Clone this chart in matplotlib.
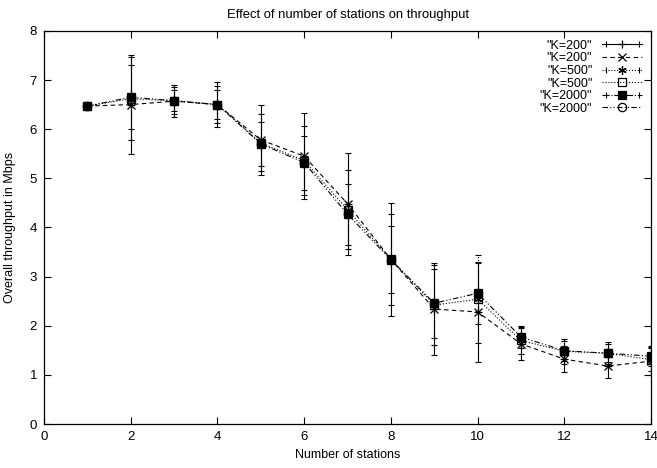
import matplotlib
matplotlib.use('Agg')
import matplotlib.pyplot as plt
from matplotlib.lines import Line2D
from matplotlib.legend_handler import HandlerLine2D, HandlerTuple

plt.rcParams['font.family'] = ['Liberation Sans', 'DejaVu Sans']

# number of stations
stations = list(range(1, 15))

# throughput means (Mbps) per buffer size
k200 = [6.47, 6.50, 6.57, 6.50, 5.78, 5.45, 4.48, 3.35, 2.34, 2.28, 1.63, 1.32, 1.18, 1.28]
k500 = [6.47, 6.62, 6.58, 6.50, 5.72, 5.36, 4.36, 3.35, 2.42, 2.54, 1.70, 1.48, 1.44, 1.31]
k2000 = [6.47, 6.65, 6.58, 6.50, 5.70, 5.32, 4.27, 3.34, 2.46, 2.66, 1.77, 1.49, 1.44, 1.38]

# error bar half widths
k200_err = [0.02, 1.00, 0.33, 0.46, 0.72, 0.88, 1.04, 1.15, 0.93, 1.01, 0.32, 0.27, 0.24, 0.28]
k500_err = [0.02, 0.85, 0.28, 0.38, 0.58, 0.70, 0.80, 0.93, 0.82, 0.90, 0.28, 0.25, 0.22, 0.24]
k2000_err = [0.02, 0.65, 0.22, 0.30, 0.45, 0.55, 0.62, 0.68, 0.70, 0.62, 0.22, 0.20, 0.18, 0.20]

labels = ['"K=200"', '"K=200"', '"K=500"', '"K=500"', '"K=2000"', '"K=2000"']

fig = plt.figure(figsize=(6.57, 4.68), dpi=100)
ax = fig.add_axes([0.067, 0.094, 0.924, 0.840])

err_styles = [
    (k200, k200_err, '-', '+', 'k'),
    (k500, k500_err, ':', (6, 2, 0), 'k'),
    (k2000, k2000_err, '-.', 's', 'k'),
]
line_styles = [
    (k200, (0, (4, 3)), 'x'),
    (k500, ':', 's'),
    (k2000, (0, (5, 2, 1, 2, 1, 2)), 'o'),
]

handles = []
hmap = {}
for i in range(3):
    ys, es, ls, mk, mfc = err_styles[i]
    eb = ax.errorbar(stations, ys, yerr=es, fmt='none', ecolor='k', elinewidth=0.8,
                     capsize=2.5, capthick=0.8)
    eb[2][0].set_linestyle(ls)
    ax.plot(stations, ys, ls='none', marker=mk, ms=6, mfc=mfc, mec='k', mew=0.9, zorder=3)
    bar = Line2D([], [], ls=ls, color='k', lw=0.8)
    caps = Line2D([], [], ls='none', marker='|', ms=5, color='k', mew=0.8)
    mid = Line2D([], [], ls='none', marker=mk, ms=6, mfc=mfc, mec='k', mew=0.9)
    hmap[caps] = HandlerLine2D(numpoints=2)
    handles.append((bar, caps, mid))

    ys2, ls2, mk2 = line_styles[i]
    ln, = ax.plot(stations, ys2, ls=ls2, color='k', lw=0.8, marker=mk2, ms=6,
                  mfc='none', mec='k', mew=0.9)
    handles.append(ln)

hmap[tuple] = HandlerTuple(ndivide=1, pad=0)
ax.legend(handles, labels, handler_map=hmap, loc='upper right', frameon=False,
          markerfirst=False, numpoints=1, fontsize=9, handlelength=3.2,
          labelspacing=0.05, borderaxespad=0.3, handletextpad=0.8)

ax.set_xlim(0, 14)
ax.set_ylim(0, 8)
ax.set_xticks(range(0, 15, 2))
ax.set_yticks(range(0, 9))
ax.tick_params(direction='in', top=True, right=True, length=5, labelsize=9.5,
               width=0.8, pad=5)
for s in ax.spines.values():
    s.set_linewidth(0.9)

ax.set_xlabel('Number of stations', fontsize=9, labelpad=4)
ax.set_ylabel('Overall throughput in Mbps', fontsize=9, labelpad=10)
ax.set_title('Effect of number of stations on throughput', fontsize=9.4, pad=9)

fig.savefig('out.png', dpi=100)
